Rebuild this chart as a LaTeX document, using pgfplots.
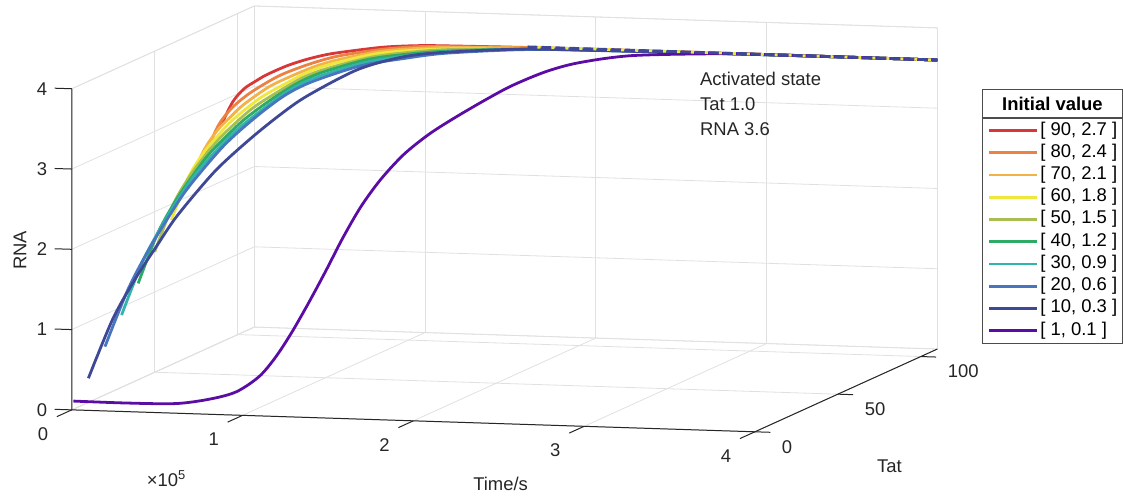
\documentclass[border=0pt]{standalone}
\usepackage{fontspec}
\setmainfont{Liberation Sans}
\usepackage{pgfplots}
\pgfplotsset{compat=1.18}
\definecolor{cRed}{RGB}{215,55,55}
\definecolor{cOrange}{RGB}{235,130,65}
\definecolor{cLOrange}{RGB}{242,178,72}
\definecolor{cYellow}{RGB}{238,232,60}
\definecolor{cOlive}{RGB}{168,190,80}
\definecolor{cGreen}{RGB}{45,170,100}
\definecolor{cTeal}{RGB}{50,180,172}
\definecolor{cBlue}{RGB}{72,118,190}
\definecolor{cNavy}{RGB}{62,72,150}
\definecolor{cPurple}{RGB}{90,12,165}
\definecolor{axdark}{RGB}{38,38,38}
\definecolor{gridc}{RGB}{224,224,224}
\newcommand\fs{\fontsize{9.25pt}{11pt}\selectfont}
\begin{document}
\begin{tikzpicture}[font=\fs]
\begin{axis}[
  x={(85.625pt,-2.75pt)}, y={(0.8318pt,0.3773pt)}, z={(0pt,40.25pt)},
  xmin=0,xmax=4,ymin=0,ymax=110,zmin=0,zmax=4,
  xtick={0,1,2,3,4}, xticklabels={0,1,2,3,4},
  ytick={0,50,100}, yticklabels={0,50,100},
  ztick={0,1,2,3,4}, zticklabels={0,1,2,3,4},
  grid=major, major grid style={gridc, line width=0.4pt},
  axis line style={gridc, line width=0.4pt},
  major tick length=0pt,
  tick label style={font=\fs, text=axdark},
  xticklabel style={anchor=center, xshift=-14.5pt, yshift=-12pt},
  yticklabel style={anchor=west, xshift=10pt, yshift=-7.5pt},
  zticklabel style={anchor=center, xshift=-15pt},
  clip=false,
  every axis plot/.append style={line width=1.4pt, smooth},
  legend image code/.code={\draw[#1] (0pt,0pt) -- (24pt,0pt);},
  legend cell align=left,
  legend style={name=leg, at={(O)}, anchor=north west, xshift=456.5pt, yshift=146.5pt,
    draw=black!70, line width=0.4pt, fill=white,
    inner xsep=2.5pt, inner ysep=1.2pt, row sep=1pt, column sep=1pt, font=\fs,
    nodes={inner xsep=0pt, inner ysep=0.5pt, text height=6.8pt, text depth=2.35pt}},
]
\coordinate (O) at (axis cs:0,0,0);
\addplot3[cRed] coordinates {(0,90,2.7) (0.05,91.9,2.98) (0.1,93.6,3.13) (0.15,95.2,3.21) (0.2,96.6,3.28) (0.3,99.0,3.38) (0.4,101.0,3.45) (0.5,102.6,3.50) (0.6,104.0,3.53) (0.8,106.0,3.58) (1.0,107.3,3.60) (1.2,108.2,3.60) (1.6,109.2,3.60) (2.0,109.6,3.60) (3.0,110,3.60) (4.0,110,3.60)};
\addlegendentry{[ 90, 2.7 ]}
\addplot3[cOrange] coordinates {(0,80,2.4) (0.05,82.9,2.76) (0.1,85.4,2.95) (0.15,87.8,3.07) (0.2,89.9,3.16) (0.3,93.5,3.30) (0.4,96.5,3.39) (0.5,99.0,3.46) (0.6,101.0,3.51) (0.8,103.9,3.57) (1.0,105.9,3.60) (1.2,107.3,3.60) (1.6,108.8,3.60) (2.0,109.5,3.60) (3.0,109.9,3.60) (4.0,110,3.60)};
\addlegendentry{[ 80, 2.4 ]}
\addplot3[cLOrange] coordinates {(0,70,2.1) (0.05,73.8,2.52) (0.1,77.3,2.76) (0.15,80.4,2.91) (0.2,83.2,3.04) (0.3,88.1,3.22) (0.4,92.0,3.33) (0.5,95.3,3.42) (0.6,98.0,3.48) (0.8,101.9,3.56) (1.0,104.6,3.59) (1.2,106.4,3.60) (1.6,108.4,3.60) (2.0,109.3,3.60) (3.0,109.9,3.60) (4.0,110,3.60)};
\addlegendentry{[ 70, 2.1 ]}
\addplot3[cYellow] coordinates {(0,60,1.8) (0.05,64.8,2.28) (0.1,69.1,2.56) (0.15,73.0,2.75) (0.2,76.5,2.91) (0.3,82.6,3.13) (0.4,87.5,3.27) (0.5,91.6,3.39) (0.6,94.9,3.46) (0.8,99.9,3.55) (1.0,103.2,3.58) (1.2,105.5,3.59) (1.6,108.0,3.60) (2.0,109.1,3.60) (3.0,109.9,3.60) (4.0,110,3.60)};
\addlegendentry{[ 60, 1.8 ]}
\addplot3[cOlive] coordinates {(0,50,1.5) (0.05,55.7,2.03) (0.1,60.9,2.35) (0.15,65.6,2.58) (0.2,69.8,2.77) (0.3,77.1,3.04) (0.4,83.0,3.21) (0.5,87.9,3.35) (0.6,91.9,3.43) (0.8,97.9,3.53) (1.0,101.9,3.57) (1.2,104.6,3.59) (1.6,107.6,3.60) (2.0,108.9,3.60) (3.0,109.8,3.60) (4.0,110,3.60)};
\addlegendentry{[ 50, 1.5 ]}
\addplot3[cGreen] coordinates {(0,40,1.2) (0.05,46.7,1.77) (0.1,52.7,2.13) (0.15,58.1,2.40) (0.2,63.1,2.63) (0.3,71.6,2.94) (0.4,78.6,3.15) (0.5,84.2,3.31) (0.6,88.9,3.41) (0.8,95.9,3.52) (1.0,100.5,3.56) (1.2,103.7,3.58) (1.6,107.1,3.60) (2.0,108.7,3.60) (3.0,109.8,3.60) (4.0,110,3.60)};
\addlegendentry{[ 40, 1.2 ]}
\addplot3[cTeal] coordinates {(0,30,0.9) (0.05,37.6,1.50) (0.1,44.5,1.90) (0.15,50.7,2.22) (0.2,56.4,2.48) (0.3,66.1,2.84) (0.4,74.1,3.08) (0.5,80.6,3.27) (0.6,85.9,3.38) (0.8,93.8,3.50) (1.0,99.2,3.55) (1.2,102.7,3.58) (1.6,106.7,3.60) (2.0,108.5,3.60) (3.0,109.8,3.60) (4.0,110,3.60)};
\addlegendentry{[ 30, 0.9 ]}
\addplot3[cBlue] coordinates {(0,20,0.6) (0.05,28.6,1.23) (0.1,36.3,1.67) (0.15,43.3,2.02) (0.2,49.7,2.32) (0.3,60.6,2.74) (0.4,69.6,3.02) (0.5,76.9,3.23) (0.6,82.9,3.35) (0.8,91.8,3.48) (1.0,97.8,3.53) (1.2,101.8,3.57) (1.6,106.3,3.60) (2.0,108.4,3.60) (3.0,109.8,3.60) (4.0,110,3.60)};
\addlegendentry{[ 20, 0.6 ]}
\addplot3[cNavy] coordinates {(0,10,0.3) (0.05,19.5,0.95) (0.1,28.1,1.38) (0.15,35.9,1.72) (0.2,43.0,2.03) (0.3,55.1,2.47) (0.4,65.1,2.77) (0.5,73.2,3.01) (0.6,79.9,3.20) (0.8,89.8,3.45) (1.0,96.5,3.56) (1.2,100.9,3.59) (1.6,105.9,3.61) (2.0,108.2,3.60) (3.0,109.7,3.60) (4.0,110,3.60)};
\addlegendentry{[ 10, 0.3 ]}
\addplot3[cPurple] coordinates {(0,1,0.10) (0.31,1,0.097) (0.60,1,0.11) (0.80,1,0.18) (0.943,2.1,0.27) (1.067,3.2,0.46) (1.150,4.8,0.70) (1.222,7.0,0.99) (1.295,9.7,1.34) (1.363,13.0,1.71) (1.419,17.4,2.08) (1.472,22.8,2.42) (1.514,30.4,2.69) (1.553,40.2,2.91) (1.593,51.1,3.06) (1.633,62.0,3.16) (1.692,74.0,3.27) (1.760,83.8,3.37) (1.863,93.7,3.46) (1.993,100.2,3.52) (2.244,106.2,3.57) (2.708,108.9,3.60) (3.0,110,3.60) (4.0,110,3.60)};
\addlegendentry{[ 1, 0.1 ]}
\addplot3[forget plot, cNavy, line width=1.4pt, dash pattern=on 5pt off 2pt] coordinates {(1.6,110,3.6) (4,110,3.6)};
\addplot3[forget plot, cYellow, line width=1.4pt, dash pattern=on 1.5pt off 5.5pt, dash phase=-5pt] coordinates {(1.6,110,3.6) (4,110,3.6)};
\draw[axdark, line width=0.5pt] (axis cs:0,0,4) -- (axis cs:0,0,0) -- (axis cs:4,0,0) -- (axis cs:4,110,0);
\pgfplotsinvokeforeach{0,1,2,3,4}{\draw[axdark, line width=0.5pt] (axis cs:#1,0,0) -- (axis cs:#1,-9,0);}
\pgfplotsinvokeforeach{0,1,2,3,4}{\draw[axdark, line width=0.5pt] (axis cs:0,0,#1) -- (axis cs:-0.1,0,#1);}
\pgfplotsinvokeforeach{0,50,100}{\draw[axdark, line width=0.5pt] (axis cs:4,#1,0) -- (axis cs:4.09,#1,0);}
\end{axis}
\node[rotate=90, text=axdark] at ([shift={(-26pt,80pt)}]O) {RNA};
\node[text=axdark] at ([shift={(215pt,-37pt)}]O) {Time/s};
\node[text=axdark] at ([shift={(410pt,-28.5pt)}]O) {Tat};
\node[text=axdark] at ([shift={(47.5pt,-34.5pt)}]O) {×10\textsuperscript{5}};
\node[anchor=west, align=left, text=axdark, font=\fontsize{9.25pt}{12.5pt}\selectfont] at ([shift={(311.5pt,153.5pt)}]O) {Activated state\\Tat 1.0\\RNA 3.6};
\draw[black!70, line width=0.4pt, fill=white] (leg.north west) rectangle ([yshift=14pt]leg.north east);
\node[text=black] at ([yshift=7pt]leg.north) {\textbf{Initial value}};
\path ([shift={(-36pt,-44pt)}]O) rectangle ([shift={(525.5pt,205.5pt)}]O);
\end{tikzpicture}
\end{document}
